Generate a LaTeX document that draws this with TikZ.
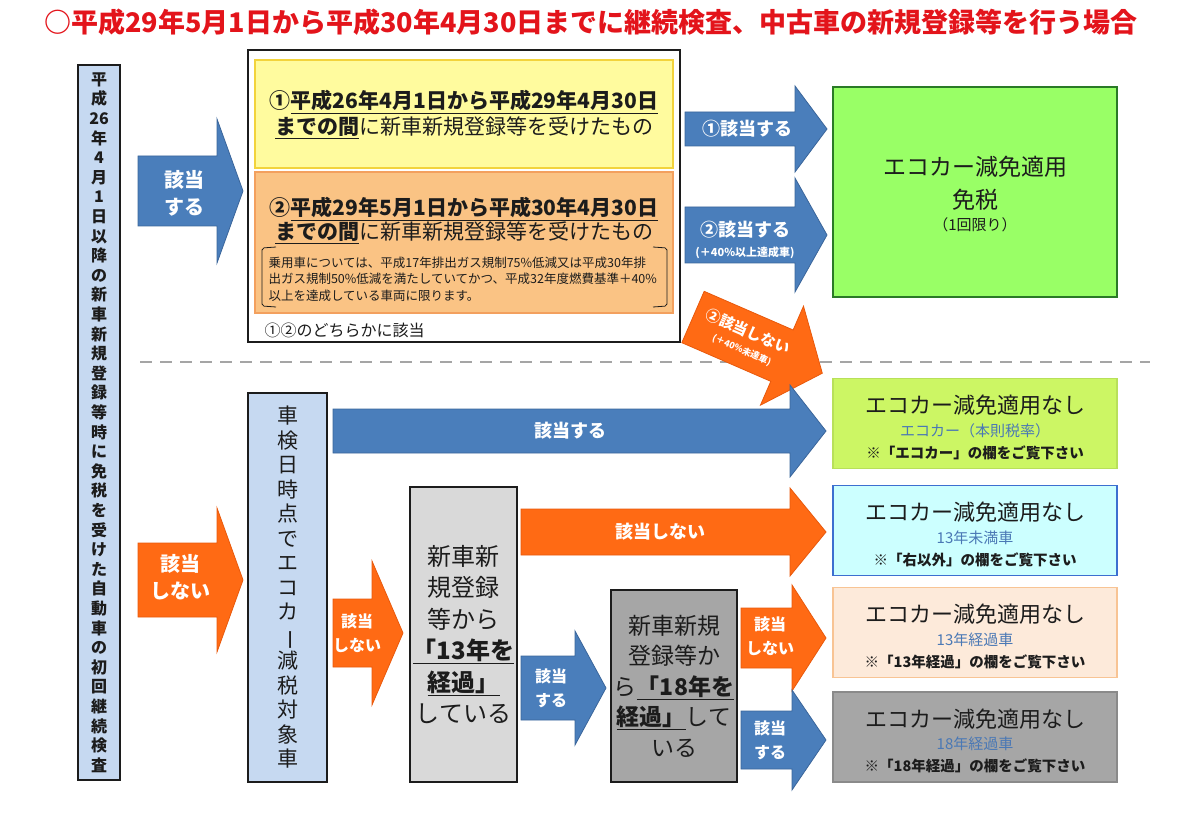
\documentclass[tikz,border=0pt]{standalone}
\usepackage{fontspec}
\setmainfont{Noto Sans CJK JP}
\usetikzlibrary{calc}

\definecolor{ttlred}{HTML}{E3141B}
\definecolor{txtdark}{HTML}{1C1C1C}
\definecolor{arrblue}{HTML}{4A7EBB}
\definecolor{arrblueline}{HTML}{3A659A}
\definecolor{arrorange}{HTML}{FF6A14}
\definecolor{arrorangeline}{HTML}{E8590C}
\definecolor{colblue}{HTML}{C6D9F1}
\definecolor{boxyellow}{HTML}{FFFB9E}
\definecolor{lineyellow}{HTML}{F2D33C}
\definecolor{boxorange}{HTML}{FAC384}
\definecolor{lineorange}{HTML}{F3A05E}
\definecolor{ecogreen}{HTML}{99FF66}
\definecolor{ecogreenline}{HTML}{2A7A26}
\definecolor{limefill}{HTML}{CCF664}
\definecolor{limeline}{HTML}{B8E05A}
\definecolor{cyanfill}{HTML}{CCFFFF}
\definecolor{cyanline}{HTML}{3C6FD0}
\definecolor{peachfill}{HTML}{FDEADA}
\definecolor{peachline}{HTML}{F8C494}
\definecolor{grayfill}{HTML}{A6A6A6}
\definecolor{grayline}{HTML}{8A8A8A}
\definecolor{boxgray}{HTML}{D9D9D9}
\definecolor{subblue}{HTML}{4A78B5}
\definecolor{dashgray}{HTML}{A5A5A5}

% block arrow: style, tail x, base x, tip x, centre y, half shaft, half head
\newcommand{\blockarr}[7]{%
  \filldraw[#1] (#2,#5-#6)--(#3,#5-#6)--(#3,#5-#7)--(#4,#5)--(#3,#5+#7)--(#3,#5+#6)--(#2,#5+#6)--cycle;}

\begin{document}
\begin{tikzpicture}[x=1pt,y=-1pt,
  box/.style={draw=txtdark,line width=1.2pt,inner sep=0pt,align=center,text=txtdark},
  wlab/.style={text=white,font=\bfseries\fontsize{18}{23}\selectfont,align=center},
  slab/.style={text=white,font=\bfseries\fontsize{16}{24}\selectfont,align=center},
  blueA/.style={fill=arrblue,draw=arrblueline,line width=0.8pt},
  orangeA/.style={fill=arrorange,draw=arrorangeline,line width=0.8pt},
  res/.style={draw,line width=1.5pt,minimum width=284pt,minimum height=90pt},
  restitle/.style={text=txtdark,font=\fontsize{22}{26}\selectfont},
  ressub/.style={text=subblue,font=\fontsize{15}{18}\selectfont},
  resnote/.style={text=txtdark,font=\bfseries\fontsize{14.5}{18}\selectfont},
  bigline/.style={text=txtdark,font=\fontsize{21}{26}\selectfont}]
\useasboundingbox (0,0) rectangle (1200,818);

% title
\node[text=ttlred,font=\bfseries\fontsize{27}{32}\selectfont] (title) at (591,22)
  {○平成29年5月1日から平成30年4月30日までに継続検査、中古車の新規登録等を行う場合};

% left column
\node[box,fill=colblue,minimum width=42pt,minimum height=715pt,
  font=\bfseries\fontsize{16}{19.6}\selectfont] (first) at (99,422.5)
  {平\\成\\26\\年\\4\\月\\1\\日\\以\\降\\の\\新\\車\\新\\規\\登\\録\\等\\時\\に\\免\\税\\を\\受\\け\\た\\自\\動\\車\\の\\初\\回\\継\\続\\検\\査};

\blockarr{blueA}{138}{217}{243}{191}{35}{72}
\node[wlab,font=\bfseries\fontsize{20}{27}\selectfont] (yes0) at (184,193) {該当\\する};
\blockarr{orangeA}{138}{217}{243}{580}{37}{72}
\node[wlab,font=\bfseries\fontsize{20}{27}\selectfont] (no0) at (180,577) {該当\\しない};

% upper block
\node[box,line width=1.5pt,minimum width=432pt,minimum height=292pt] (frame) at (464,196) {};
\node[box,fill=boxyellow,draw=lineyellow,line width=2pt,minimum width=418pt,minimum height=108pt] (per1) at (464,114) {};
\node[bigline] (per1a) at (464,102) {\textbf{①\underline{平成26年4月1日から平成29年4月30日}}};
\node[bigline] (per1b) at (464,128) {\textbf{\underline{までの間}}に新車新規登録等を受けたもの};
\node[box,fill=boxorange,draw=lineorange,line width=2pt,minimum width=418pt,minimum height=141pt] (per2) at (464,242.5) {};
\node[bigline] (per2a) at (464,209) {\textbf{②\underline{平成29年5月1日から平成30年4月30日}}};
\node[bigline] (per2b) at (464,233) {\textbf{\underline{までの間}}に新車新規登録等を受けたもの};
\draw[txtdark,line width=0.8pt,rounded corners=2pt] (276,247)--(262,248)--(262,306)--(276,307);
\draw[txtdark,line width=0.8pt,rounded corners=2pt] (653,247)--(667,248)--(667,306)--(653,307);
\node[anchor=west,align=left,text=txtdark,font=\fontsize{12.5}{16.5}\selectfont] (cond) at (265,279)
  {乗用車については、平成17年排出ガス規制75\%低減又は平成30年排\\
   出ガス規制50\%低減を満たしていてかつ、平成32年度燃費基準＋40\%\\
   以上を達成している車両に限ります。};
\node[anchor=west,text=txtdark,font=\fontsize{16}{20}\selectfont] (either) at (261,330) {①②のどちらかに該当};

\blockarr{blueA}{685}{795}{827}{129}{17}{43}
\node[wlab] (yes1) at (747,129) {①該当する};
\blockarr{blueA}{685}{795}{827}{235}{28}{57}
\node[wlab] (yes2) at (745,230) {②該当する};
\node[wlab,font=\bfseries\fontsize{11}{13}\selectfont] (yes2s) at (745,253) {(＋40\%以上達成車)};

\node[box,fill=ecogreen,draw=ecogreenline,line width=2pt,minimum width=284pt,minimum height=210pt] (free) at (975,192) {};
\node[restitle,font=\fontsize{23}{28}\selectfont] (freea) at (975,167) {エコカー減免適用};
\node[restitle,font=\fontsize{23}{28}\selectfont] (freeb) at (975,200) {免税};
\node[restitle,font=\fontsize{15}{18}\selectfont] (freec) at (975,225) {（1回限り）};

% separator
\draw[dashgray,line width=2.5pt,dash pattern=on 12pt off 8pt] (140,362)--(1150,362);

\begin{scope}[shift={(693,317)},rotate=-23.5]
  \blockarr{orangeA}{0}{97}{141}{0}{28}{54}
  \node[wlab,transform shape,font=\bfseries\fontsize{15}{18}\selectfont] (no2) at (56,-9) {②該当しない};
  \node[wlab,transform shape,font=\bfseries\fontsize{9}{11}\selectfont] (no2s) at (58,11) {(＋40\%未達車)};
\end{scope}

% lower block
\node[box,fill=colblue,minimum width=79pt,minimum height=389pt,
  font=\fontsize{21}{24.5}\selectfont] (eco) at (287.5,587.5)
  {車\\検\\日\\時\\点\\で\\エ\\コ\\カ\\\rotatebox[origin=c]{-90}{ー}\\減\\税\\対\\象\\車};

\blockarr{blueA}{333}{790}{826}{431}{22}{46}
\node[wlab] (yes3) at (570,431) {該当する};

\node[box,fill=boxgray,minimum width=107pt,minimum height=295pt,
  font=\fontsize{24}{31.5}\selectfont] (y13) at (463.5,634.5)
  {新車新\\規登録\\等から\\\textbf{\underline{「13年を}}\\\textbf{\underline{経過」}}\\している};

\blockarr{orangeA}{521}{790}{826}{532}{23}{44}
\node[wlab] (no3) at (660,532) {該当しない};

\blockarr{orangeA}{333}{372}{403}{633}{34}{72}
\node[slab] (no4) at (357,633) {該当\\しない};

\blockarr{blueA}{521}{575}{606}{688}{32}{57}
\node[slab] (yes4) at (551,688) {該当\\する};

\node[box,fill=grayfill,minimum width=126pt,minimum height=192pt,
  font=\fontsize{23}{30.5}\selectfont] (y18) at (674,686)
  {新車新規\\登録等か\\ら\textbf{\underline{「18年を}}\\\textbf{\underline{経過」}}して\\いる};

\blockarr{orangeA}{741}{792}{826}{638}{30}{53}
\node[slab] (no5) at (770,636) {該当\\しない};
\blockarr{blueA}{741}{792}{826}{740}{29}{50}
\node[slab] (yes5) at (770,740) {該当\\する};

% result boxes
\foreach \nm/\yc/\fc/\dc/\sub/\note in {
  ecoA/423.5/limefill/limeline/エコカー（本則税率）/※「エコカー」の欄をご覧下さい,
  ecoB/530.5/cyanfill/cyanline/13年未満車/※「右以外」の欄をご覧下さい,
  ecoC/632.5/peachfill/peachline/13年経過車/※「13年経過」の欄をご覧下さい,
  ecoD/737/grayfill/grayline/18年経過車/※「18年経過」の欄をご覧下さい}{
  \node[res,fill=\fc,draw=\dc] (\nm) at (975,\yc) {};
  \node[restitle] (\nm-t) at (975,\yc-18) {エコカー減免適用なし};
  \node[ressub] (\nm-s) at (975,\yc+7) {\sub};
  \node[resnote] (\nm-n) at (975,\yc+29) {\note};
}
\end{tikzpicture}
\end{document}
